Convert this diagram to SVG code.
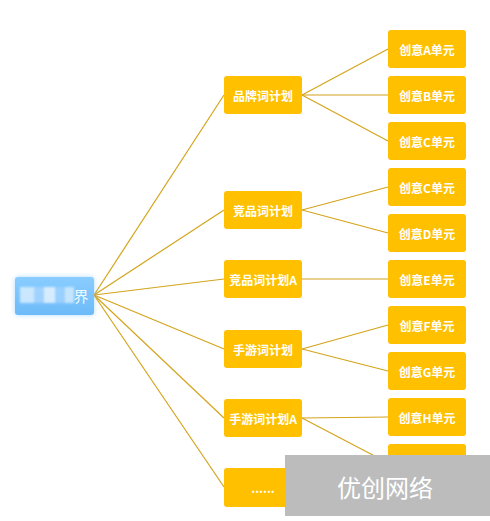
<svg xmlns="http://www.w3.org/2000/svg" width="490" height="521" viewBox="0 0 490 521">
<defs>
<style>
.n rect{fill:#FFC000;}
.n text{fill:#fff;font-family:"Noto Sans CJK SC","Liberation Sans",sans-serif;font-weight:bold;font-size:12px;text-anchor:middle;dominant-baseline:central;}
#conn line{stroke:#D4A41C;stroke-width:1.2;}
</style>
<filter id="glow" x="-20%" y="-40%" width="140%" height="180%">
<feGaussianBlur in="SourceAlpha" stdDeviation="2.5" result="b"/>
<feFlood flood-color="#7cc4ff" flood-opacity="0.6" result="f"/>
<feComposite operator="in" in="f" in2="b" result="g"/>
<feMerge><feMergeNode in="g"/><feMergeNode in="SourceGraphic"/></feMerge>
</filter>
<filter id="bl" x="-10%" y="-20%" width="120%" height="140%"><feGaussianBlur stdDeviation="1.2"/></filter>
<linearGradient id="rg" x1="0" y1="0" x2="0" y2="1">
<stop offset="0" stop-color="#8acdff"/>
<stop offset="1" stop-color="#6cbaf8"/>
</linearGradient>
</defs>
<rect width="490" height="521" fill="#fff"/>
<g id="conn">
<line x1="94" y1="295" x2="224" y2="95"/>
<line x1="94" y1="295" x2="224" y2="210"/>
<line x1="94" y1="295" x2="224" y2="279"/>
<line x1="94" y1="295" x2="224" y2="349"/>
<line x1="94" y1="295" x2="224" y2="418"/>
<line x1="94" y1="295" x2="224" y2="487"/>
<line x1="302" y1="95" x2="388" y2="49"/>
<line x1="302" y1="95" x2="388" y2="95"/>
<line x1="302" y1="95" x2="388" y2="141"/>
<line x1="302" y1="210" x2="388" y2="187"/>
<line x1="302" y1="210" x2="388" y2="233"/>
<line x1="302" y1="279" x2="388" y2="279"/>
<line x1="302" y1="349" x2="388" y2="325"/>
<line x1="302" y1="349" x2="388" y2="371"/>
<line x1="302" y1="418" x2="388" y2="417"/>
<line x1="302" y1="418" x2="388" y2="463"/>
</g>
<g id="root">
<rect x="15" y="277" width="79" height="38" rx="3" fill="url(#rg)" filter="url(#glow)"/>
<g filter="url(#bl)" opacity="0.85">
<rect x="20" y="287" width="14" height="16" fill="#d8eeff"/>
<rect x="34" y="287" width="10" height="16" fill="#a6d6ff"/>
<rect x="44" y="287" width="11" height="16" fill="#e6f4ff"/>
<rect x="55" y="287" width="10" height="16" fill="#9fd3ff"/>
<rect x="65" y="287" width="9" height="16" fill="#d2ebff"/>
</g>
<text x="81" y="295" fill="#eef8ff" font-family="'Noto Sans CJK SC','Liberation Sans',sans-serif" font-size="15" text-anchor="middle" dominant-baseline="central">界</text>
</g>
<g id="m1" class="n"><rect x="224" y="76" width="78" height="38" rx="3"/><text x="263" y="95">品牌词计划</text></g>
<g id="m2" class="n"><rect x="224" y="191" width="78" height="38" rx="3"/><text x="263" y="210">竞品词计划</text></g>
<g id="m3" class="n"><rect x="224" y="260" width="78" height="38" rx="3"/><text x="263" y="279">竞品词计划A</text></g>
<g id="m4" class="n"><rect x="224" y="330" width="78" height="38" rx="3"/><text x="263" y="349">手游词计划</text></g>
<g id="m5" class="n"><rect x="224" y="399" width="78" height="38" rx="3"/><text x="263" y="418">手游词计划A</text></g>
<g id="m6" class="n"><rect x="224" y="468" width="78" height="39" rx="3"/><text x="263" y="487" font-weight="normal">......</text></g>
<g id="cA" class="n"><rect x="388" y="30" width="78" height="38" rx="3"/><text x="427" y="49">创意A单元</text></g>
<g id="cB" class="n"><rect x="388" y="76" width="78" height="38" rx="3"/><text x="427" y="95">创意B单元</text></g>
<g id="cC" class="n"><rect x="388" y="122" width="78" height="38" rx="3"/><text x="427" y="141">创意C单元</text></g>
<g id="cC2" class="n"><rect x="388" y="168" width="78" height="38" rx="3"/><text x="427" y="187">创意C单元</text></g>
<g id="cD" class="n"><rect x="388" y="214" width="78" height="38" rx="3"/><text x="427" y="233">创意D单元</text></g>
<g id="cE" class="n"><rect x="388" y="260" width="78" height="38" rx="3"/><text x="427" y="279">创意E单元</text></g>
<g id="cF" class="n"><rect x="388" y="306" width="78" height="38" rx="3"/><text x="427" y="325">创意F单元</text></g>
<g id="cG" class="n"><rect x="388" y="352" width="78" height="38" rx="3"/><text x="427" y="371">创意G单元</text></g>
<g id="cH" class="n"><rect x="388" y="398" width="78" height="38" rx="3"/><text x="427" y="417">创意H单元</text></g>
<g id="cI" class="n"><rect x="388" y="444" width="78" height="38" rx="3"/></g>
<g id="watermark">
<rect x="285" y="455" width="205" height="61" fill="#bcbcbc"/>
<text x="385" y="486" fill="#fff" font-family="'Noto Sans CJK SC','Liberation Sans',sans-serif" font-size="24" text-anchor="middle" dominant-baseline="central">优创网络</text>
</g>
</svg>
